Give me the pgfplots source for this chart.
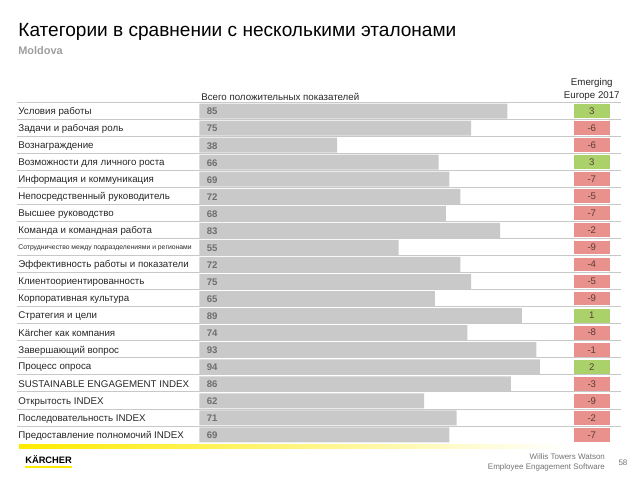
\documentclass[border=0pt]{standalone}
\usepackage{fontspec}
\setmainfont{Liberation Sans}
\usepackage{pgfplots}
\usepackage{pgfplotstable}
\pgfplotsset{compat=1.18}
\definecolor{barcol}{HTML}{C9C9C9}
\definecolor{grn}{HTML}{ABD26A}
\definecolor{rd}{HTML}{E8918D}
\definecolor{sep}{HTML}{C8C8C8}
\definecolor{valtxt}{HTML}{6E6E6E}
\definecolor{kyellow}{HTML}{FFEB00}
\definecolor{boxtxt}{HTML}{5A3C3A}
\newcommand\smalllab{\fontsize{5.1}{6}\selectfont}

\pgfplotstableread[col sep=comma]{
idx,val,delta,cls,label
1,85,3,p,Условия работы
2,75,-6,n,Задачи и рабочая роль
3,38,-6,n,Вознаграждение
4,66,3,p,Возможности для личного роста
5,69,-7,n,Информация и коммуникация
6,72,-5,n,Непосредственный руководитель
7,68,-7,n,Высшее руководство
8,83,-2,n,Команда и командная работа
9,55,-9,n,\smalllab Сотрудничество между подразделениями и регионами
10,72,-4,n,Эффективность работы и показатели
11,75,-5,n,Клиентоориентированность
12,65,-9,n,Корпоративная культура
13,89,1,p,Стратегия и цели
14,74,-8,n,Kärcher как компания
15,93,-1,n,Завершающий вопрос
16,94,2,p,Процесс опроса
17,86,-3,n,SUSTAINABLE ENGAGEMENT INDEX
18,62,-9,n,Открытость INDEX
19,71,-2,n,Последовательность INDEX
20,69,-7,n,Предоставление полномочий INDEX
}\data

\begin{document}
\begin{tikzpicture}
\begin{axis}[
  scale only axis, width=480pt, height=360pt,
  xmin=-55, xmax=121.6, ymin=-5.51, ymax=22.64,
  y dir=reverse, axis lines=none, clip=false, ticks=none,
]
\path (rel axis cs:0,0) (rel axis cs:1,1);
% row separators
\pgfplotsinvokeforeach{0,...,19}{
  \addplot[sep, line width=0.6pt, mark=none] coordinates {(-50.3,#1.47) (116.3,#1.47)};
}
% bars
\addplot[xbar, bar width=0.88, fill=barcol, draw=none] table[x=val, y=idx]{\data};
% value labels
\addplot[draw=none, mark=none, nodes near coords, point meta=explicit symbolic,
  every node near coord/.append style={anchor=west, font=\bfseries\fontsize{7.2}{8}\selectfont, text=valtxt, inner sep=0pt, yshift=-0.5pt}]
  table[x expr=2, y=idx, meta=val]{\data};
% row labels
\addplot[draw=none, mark=none, nodes near coords, point meta=explicit symbolic,
  every node near coord/.append style={anchor=west, font=\fontsize{7.3}{8}\selectfont, text=black!85, inner sep=0pt, yshift=-0.6pt}]
  table[x expr=-50, y=idx, meta=label]{\data};
% benchmark boxes
\addplot[only marks, scatter, scatter src=explicit symbolic,
  mark=square*, mark size=4.8pt,
  scatter/classes={p={mark=square*, fill=grn, draw=grn, line width=0pt, xscale=2.74},
                   n={mark=square*, fill=rd, draw=rd, line width=0pt, xscale=2.74}}]
  table[x expr=108.3, y=idx, meta=cls]{\data};
\addplot[draw=none, mark=none, nodes near coords, point meta=explicit symbolic,
  every node near coord/.append style={anchor=center, font=\fontsize{7.2}{8}\selectfont, text=boxtxt, inner sep=0pt}]
  table[x expr=108.3, y=idx, meta=delta]{\data};

% decorations & texts
\fill[left color=kyellow, right color=white] (axis cs:-49.7,20.56) rectangle (axis cs:102,20.8);
\node[anchor=west, inner sep=0pt, font=\fontsize{14.3}{17}\selectfont] at (axis cs:-50,-3.63) {Категории в сравнении с несколькими эталонами};
\node[anchor=west, inner sep=0pt, font=\bfseries\fontsize{8.2}{9}\selectfont, text=black!38] at (axis cs:-50,-2.52) {Moldova};
\node[anchor=west, inner sep=0pt, font=\fontsize{7.3}{8}\selectfont, text=black!85] at (axis cs:0.47,0.18) {Всего положительных показателей};
\node[anchor=center, inner sep=0pt, font=\fontsize{7.3}{8}\selectfont, text=black!85] at (axis cs:108.3,-0.64) {Emerging};
\node[anchor=center, inner sep=0pt, font=\fontsize{7.3}{8}\selectfont, text=black!85] at (axis cs:108.3,0.12) {Europe 2017};
\node[anchor=west, inner sep=0pt, font=\bfseries\fontsize{7}{8}\selectfont] at (axis cs:-48.1,21.45) {KÄRCHER};
\fill[kyellow] (axis cs:-48.1,21.82) rectangle (axis cs:-35.1,21.96);
\node[anchor=east, inner sep=0pt, font=\fontsize{6}{7}\selectfont, text=black!55] at (axis cs:112,21.29) {Willis Towers Watson};
\node[anchor=east, inner sep=0pt, font=\fontsize{6}{7}\selectfont, text=black!55] at (axis cs:112,21.88) {Employee Engagement Software};
\node[anchor=center, inner sep=0pt, font=\fontsize{6}{7}\selectfont, text=black!55] at (axis cs:116.9,21.65) {58};
\end{axis}
\end{tikzpicture}
\end{document}
